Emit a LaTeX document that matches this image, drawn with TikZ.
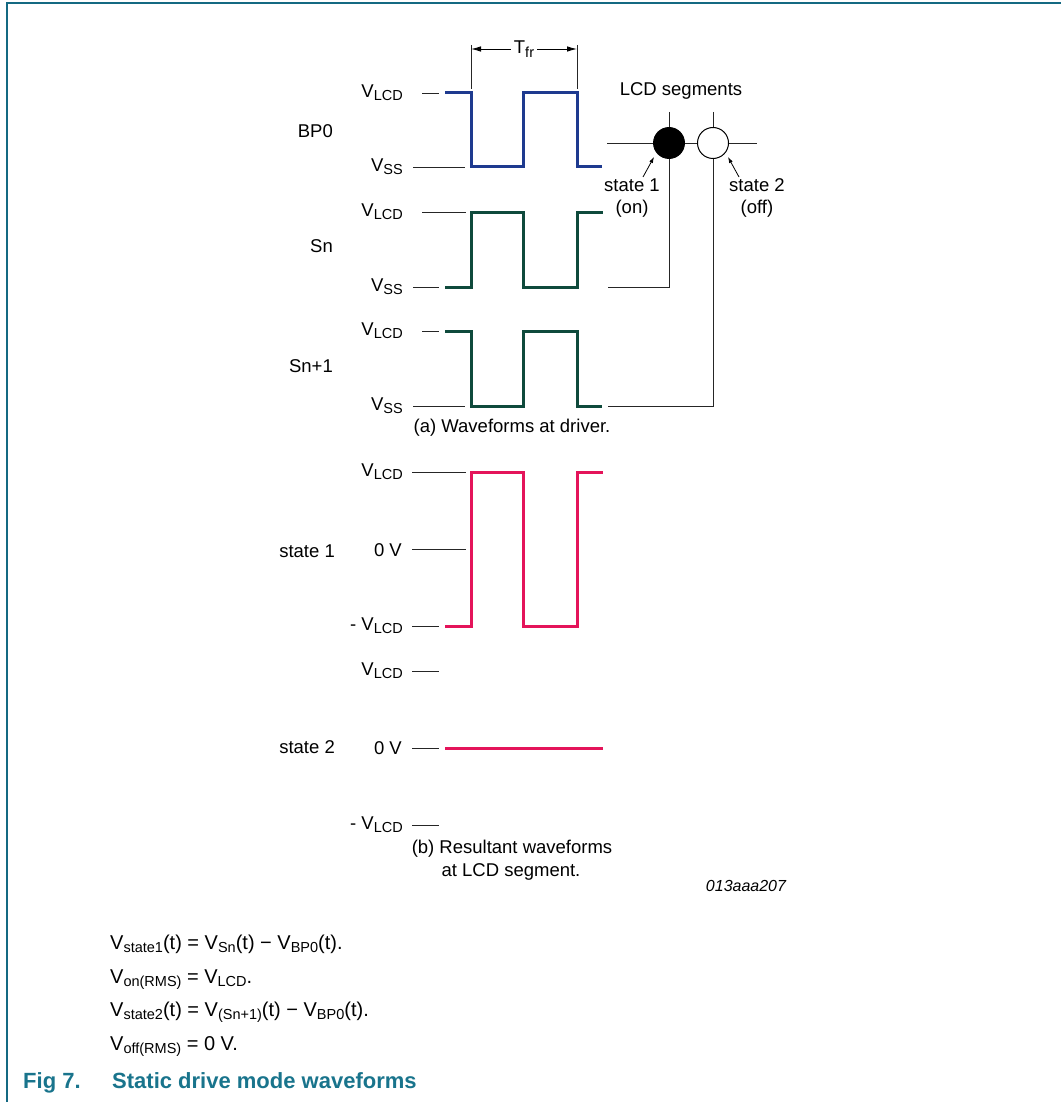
\documentclass[tikz,border=0pt]{standalone}
\usepackage{fontspec}
\setmainfont{Liberation Sans}
\usetikzlibrary{arrows.meta}
\definecolor{bpblue}{RGB}{30,58,143}
\definecolor{sngreen}{RGB}{15,74,60}
\definecolor{pinkw}{RGB}{228,20,90}
\definecolor{frameteal}{RGB}{20,105,130}
\definecolor{capteal}{RGB}{25,116,140}
\newcommand\sbx[1]{\raisebox{-3.3pt}{\fontsize{14.5}{15}\selectfont #1}}
\begin{document}
\begin{tikzpicture}[x=1pt,y=-1pt,
  lbl/.style={inner sep=0pt, font=\fontsize{18.5}{22}\selectfont},
  lble/.style={lbl, anchor=base east},
  lblc/.style={lbl, anchor=base},
  fml/.style={inner sep=0pt, anchor=base west, font=\fontsize{20}{24}\selectfont},
  capt/.style={inner sep=0pt, anchor=base west, text=capteal, font=\fontsize{22}{26}\selectfont\bfseries},
  wave/.style={line width=3pt, line join=miter, line cap=butt},
  tickln/.style={line width=0.9pt, black!85},
  wire/.style={line width=0.9pt, black!85},
  ptr/.style={line width=0.8pt, -{Latex[length=6pt,width=4pt]}},
  dim/.style={line width=0.9pt, -{Latex[length=10pt,width=5.5pt]}}]
\useasboundingbox (0,0) rectangle (1061,1102);
% frame
\draw[frameteal, line width=1.4pt] (7,1102) -- (7,3) -- (1061,3);

% T_fr dimension
\coordinate (tfl) at (471,45);
\coordinate (tflb) at (471,89);
\coordinate (tfr) at (577,45);
\coordinate (tfrb) at (577,89);
\draw[tickln] (tfl) -- (tflb);
\draw[tickln] (tfr) -- (tfrb);
\node[lbl, anchor=base] (tfrlab) at (524,54) {T\sbx{fr}};
\coordinate (tfla) at (471,49);
\coordinate (tfra) at (577,49);
\draw[dim] (tfrlab.west |- tfla) ++(-3,0) coordinate (tfls) -- (tfla);
\draw[dim] (tfrlab.east |- tfra) ++(3,0) coordinate (tfrs) -- (tfra);

% left row labels
\node[lble] (bp0) at (333,138) {BP0};
\node[lble] (sn) at (333,252) {Sn};
\node[lble] (sn1) at (333,372) {Sn+1};
\node[lble] (st1) at (335,557) {state 1};
\node[lble] (st2) at (335,753.5) {state 2};

% BP0
\node[lble] (bpv1) at (403,97.5) {V\sbx{LCD}};
\node[lble] (bpv0) at (403,171.5) {V\sbx{SS}};
\draw[tickln] (422,93) -- (439,93);
\draw[tickln] (413,167) -- (465,167);
\draw[wave, bpblue] (445,93) -- (471,93) -- (471,167) -- (523,167) -- (523,93) -- (577,93) -- (577,167) -- (602,167);

% Sn
\node[lble] (snv1) at (403,216.5) {V\sbx{LCD}};
\node[lble] (snv0) at (403,291.5) {V\sbx{SS}};
\draw[tickln] (422,212) -- (466,212);
\draw[tickln] (413,287) -- (439,287);
\draw[wave, sngreen] (445,287) -- (471,287) -- (471,212) -- (523,212) -- (523,287) -- (577,287) -- (577,212) -- (603,212);

% Sn+1
\node[lble] (sn1v1) at (403,335.5) {V\sbx{LCD}};
\node[lble] (sn1v0) at (403,410.5) {V\sbx{SS}};
\draw[tickln] (422,331) -- (439,331);
\draw[tickln] (413,406) -- (465,406);
\draw[wave, sngreen] (445,331) -- (471,331) -- (471,406) -- (523,406) -- (523,331) -- (577,331) -- (577,406) -- (602,406);

\node[lblc] (capa) at (512,432) {(a) Waveforms at driver.};

% LCD segments
\node[lblc] (segt) at (681,96) {LCD segments};
\coordinate (hl) at (607,143);
\coordinate (hr) at (757,143);
\draw[wire] (hl) -- (hr);
\coordinate (v1t) at (669,112);
\coordinate (v2t) at (713,112);
\coordinate (v1b) at (669,287);
\coordinate (v2b) at (713,406);
\coordinate (snend) at (608,287);
\coordinate (sn1end) at (608,406);
\draw[wire] (v1t) -- (v1b) -- (snend);
\draw[wire] (v2t) -- (v2b) -- (sn1end);
\node[circle, fill=black, draw=black, line width=0.9pt, minimum size=31pt, inner sep=0pt] (seg1) at (669,143) {};
\node[circle, fill=white, draw=black, line width=1pt, minimum size=31pt, inner sep=0pt] (seg2) at (713,143) {};
\node[lblc] (s1a) at (632,191.5) {state 1};
\node[lblc] (s1b) at (632,213) {(on)};
\node[lblc] (s2a) at (757,191.5) {state 2};
\node[lblc] (s2b) at (757,213) {(off)};
\coordinate (p1s) at (643,177);
\coordinate (p1e) at (654,157);
\coordinate (p2s) at (739,177);
\coordinate (p2e) at (728,157);
\draw[ptr] (p1s) -- (p1e);
\draw[ptr] (p2s) -- (p2e);

% state 1 resultant
\node[lble] (r1v1) at (403,476.5) {V\sbx{LCD}};
\node[lble] (r1v0) at (402,556) {0 V};
\node[lble] (r1vm) at (403,630) {- V\sbx{LCD}};
\draw[tickln] (412,472) -- (466,472);
\draw[tickln] (412,549) -- (466,549);
\draw[tickln] (412,626) -- (439,626);
\draw[wave, pinkw] (445,626) -- (471,626) -- (471,472) -- (523,472) -- (523,626) -- (577,626) -- (577,472) -- (603,472);

% state 2 resultant
\node[lble] (r2v1) at (403,675) {V\sbx{LCD}};
\node[lble] (r2v0) at (402,754.5) {0 V};
\node[lble] (r2vm) at (403,829) {- V\sbx{LCD}};
\draw[tickln] (412,671) -- (439,671);
\draw[tickln] (412,748) -- (439,748);
\draw[tickln] (412,825) -- (439,825);
\draw[wave, pinkw] (445,748) -- (603,748);

\node[lblc] (capb1) at (512,853) {(b) Resultant waveforms};
\node[lblc] (capb2) at (511,876) {at LCD segment.};
\node[inner sep=0pt, anchor=base, font=\fontsize{16}{18}\selectfont\itshape] (fid) at (746,891.5) {013aaa207};

% formulas
\node[fml] (f1) at (110,949) {V\sbx{state1}(t) = V\sbx{Sn}(t) − V\sbx{BP0}(t).};
\node[fml] (f2) at (110,983) {V\sbx{on(RMS)} = V\sbx{LCD}.};
\node[fml] (f3) at (110,1016) {V\sbx{state2}(t) = V\sbx{(Sn+1)}(t) − V\sbx{BP0}(t).};
\node[fml] (f4) at (110,1050) {V\sbx{off(RMS)} = 0 V.};

% caption
\node[capt] (fig) at (23,1088) {Fig 7.};
\node[capt] (figt) at (112,1088) {Static drive mode waveforms};
\end{tikzpicture}
\end{document}
